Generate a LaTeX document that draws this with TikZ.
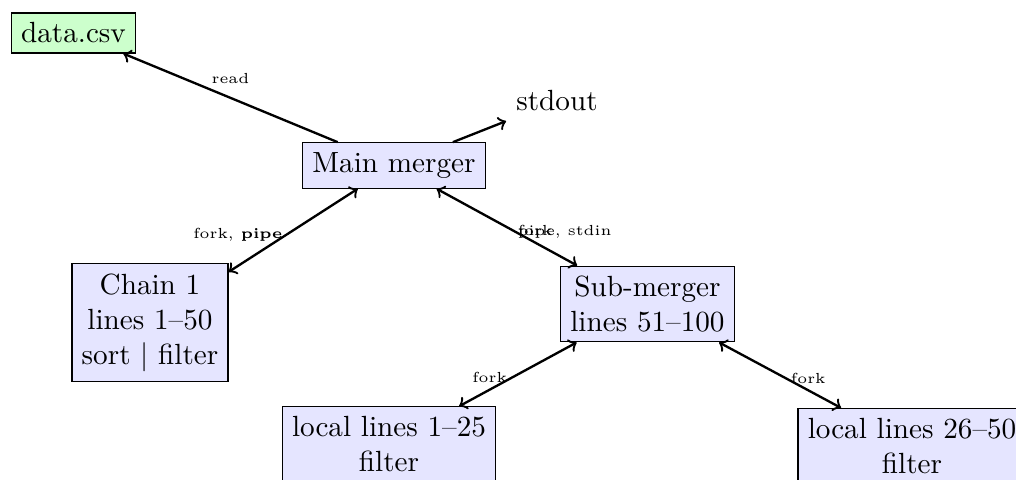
\documentclass[tikz,border=0pt]{standalone}
\usepackage{xcolor}
\usepackage{tikz}

\begin{document}
\begin{tikzpicture}[
        proc/.style={rectangle, draw, fill=blue!10, align=center},
        file/.style={rectangle, draw, fill=green!20},
        link/.style={<->, thick},
        flow/.style={->, thick},
        lbl/.style={font=\tiny, text height=1.5ex, text depth=.25ex}
    ]
        \useasboundingbox (0,0) rectangle (12.232,-5.767);
        \clip (0,0) rectangle (12.232,-5.767);
        \node[file] (data) at (0.885,-0.397) {data.csv};
        \node (out) at (6.706,-1.216) {stdout};
        \node[proc] (main) at (4.743,-1.992) {Main merger};
        \node[proc] (chain) at (1.806,-3.883) {Chain 1\\lines 1--50\\sort $|$ filter};
        \node[proc] (sub) at (7.795,-3.660) {Sub-merger\\lines 51--100};
        \node[proc] (loc1) at (4.683,-5.35) {local lines 1--25\\filter};
        \node[proc] (loc2) at (10.98,-5.37) {local lines 26--50\\filter};
        \draw[flow] (main) -- (data) node[midway, above, lbl] {read};
        \draw[flow] (main) -- (out);
        \draw[link] (main) -- (chain) node[midway, left, lbl] {fork, \textbf{pipe}};
        \draw[link] (main) -- (sub) node[midway, right, lbl] {fork}
            node[midway, right, lbl] {pipe, stdin};
        \draw[link] (sub) -- (loc1) node[midway, left, lbl] {fork};
        \draw[link] (sub) -- (loc2) node[midway, right, lbl] {fork};
    \end{tikzpicture}
\end{document}
